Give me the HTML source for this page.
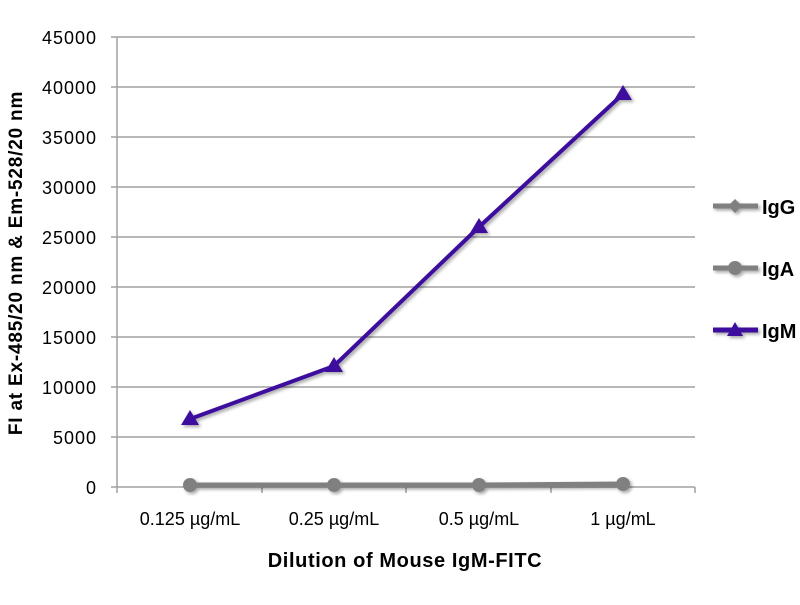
<!DOCTYPE html><html><head><style>body{margin:0;background:#fff}</style></head><body>
<svg width="800" height="600" xmlns="http://www.w3.org/2000/svg" font-family="Liberation Sans, sans-serif">
<defs><filter id="s" x="-20%" y="-20%" width="140%" height="140%"><feDropShadow dx="2" dy="2" stdDeviation="1.5" flood-opacity="0.35"/></filter></defs>
<g stroke="#a0a0a0" stroke-width="1.5">
<line x1="111" y1="37" x2="695" y2="37"/><line x1="111" y1="87" x2="695" y2="87"/><line x1="111" y1="137" x2="695" y2="137"/><line x1="111" y1="187" x2="695" y2="187"/><line x1="111" y1="237" x2="695" y2="237"/><line x1="111" y1="287" x2="695" y2="287"/><line x1="111" y1="337" x2="695" y2="337"/><line x1="111" y1="387" x2="695" y2="387"/><line x1="111" y1="437" x2="695" y2="437"/><line x1="111" y1="487" x2="695" y2="487"/>
<line x1="117" y1="37" x2="117" y2="493"/>
<line x1="262" y1="487" x2="262" y2="493"/><line x1="406" y1="487" x2="406" y2="493"/><line x1="551" y1="487" x2="551" y2="493"/><line x1="695" y1="487" x2="695" y2="493"/>
</g>
<g font-size="18" fill="#000" text-anchor="end" letter-spacing="1">
<text x="97" y="44">45000</text><text x="97" y="94">40000</text><text x="97" y="144">35000</text><text x="97" y="194">30000</text><text x="97" y="244">25000</text><text x="97" y="294">20000</text><text x="97" y="344">15000</text><text x="97" y="394">10000</text><text x="97" y="444">5000</text><text x="97" y="494">0</text>
</g>
<g font-size="18" text-anchor="middle">
<text x="190" y="525">0.125 µg/mL</text><text x="334" y="525">0.25 µg/mL</text><text x="479" y="525">0.5 µg/mL</text><text x="623" y="525">1 µg/mL</text>
</g>
<text x="405" y="567" font-size="20" font-weight="bold" text-anchor="middle" letter-spacing="0.6">Dilution of Mouse IgM-FITC</text>
<text transform="translate(22,263) rotate(-90)" font-size="19" font-weight="bold" text-anchor="middle" letter-spacing="0.8">FI at Ex-485/20 nm &amp; Em-528/20 nm</text>
<g filter="url(#s)">
<polyline points="190,485 334,485 479,485 623,484" fill="none" stroke="#808080" stroke-width="5"/>
<g fill="#808080"><circle cx="190" cy="485" r="7"/><circle cx="334" cy="485" r="7"/><circle cx="479" cy="485" r="7"/><circle cx="623" cy="484" r="7"/></g>
<polyline points="190,419 334,366 479,227 623,94" fill="none" stroke="#3d0f9e" stroke-width="4"/>
<g fill="#3d0f9e"><polygon points="190,410 181,425 199,425"/><polygon points="334,357 325,372 343,372"/><polygon points="479,218 470,233 488,233"/><polygon points="623,85 614,100 632,100"/></g>
<line x1="713" y1="206" x2="758" y2="206" stroke="#808080" stroke-width="5"/><polygon points="735,199 742,206 735,213 728,206" fill="#808080"/>
<line x1="713" y1="268" x2="758" y2="268" stroke="#808080" stroke-width="5"/><circle cx="735" cy="268" r="7" fill="#808080"/>
<line x1="713" y1="330" x2="758" y2="330" stroke="#3d0f9e" stroke-width="5"/><polygon points="735,322 727,336 743,336" fill="#3d0f9e"/>
</g>
<g font-size="20" font-weight="bold"><text x="762" y="214">IgG</text><text x="762" y="276">IgA</text><text x="762" y="338">IgM</text></g>
</svg></body></html>
